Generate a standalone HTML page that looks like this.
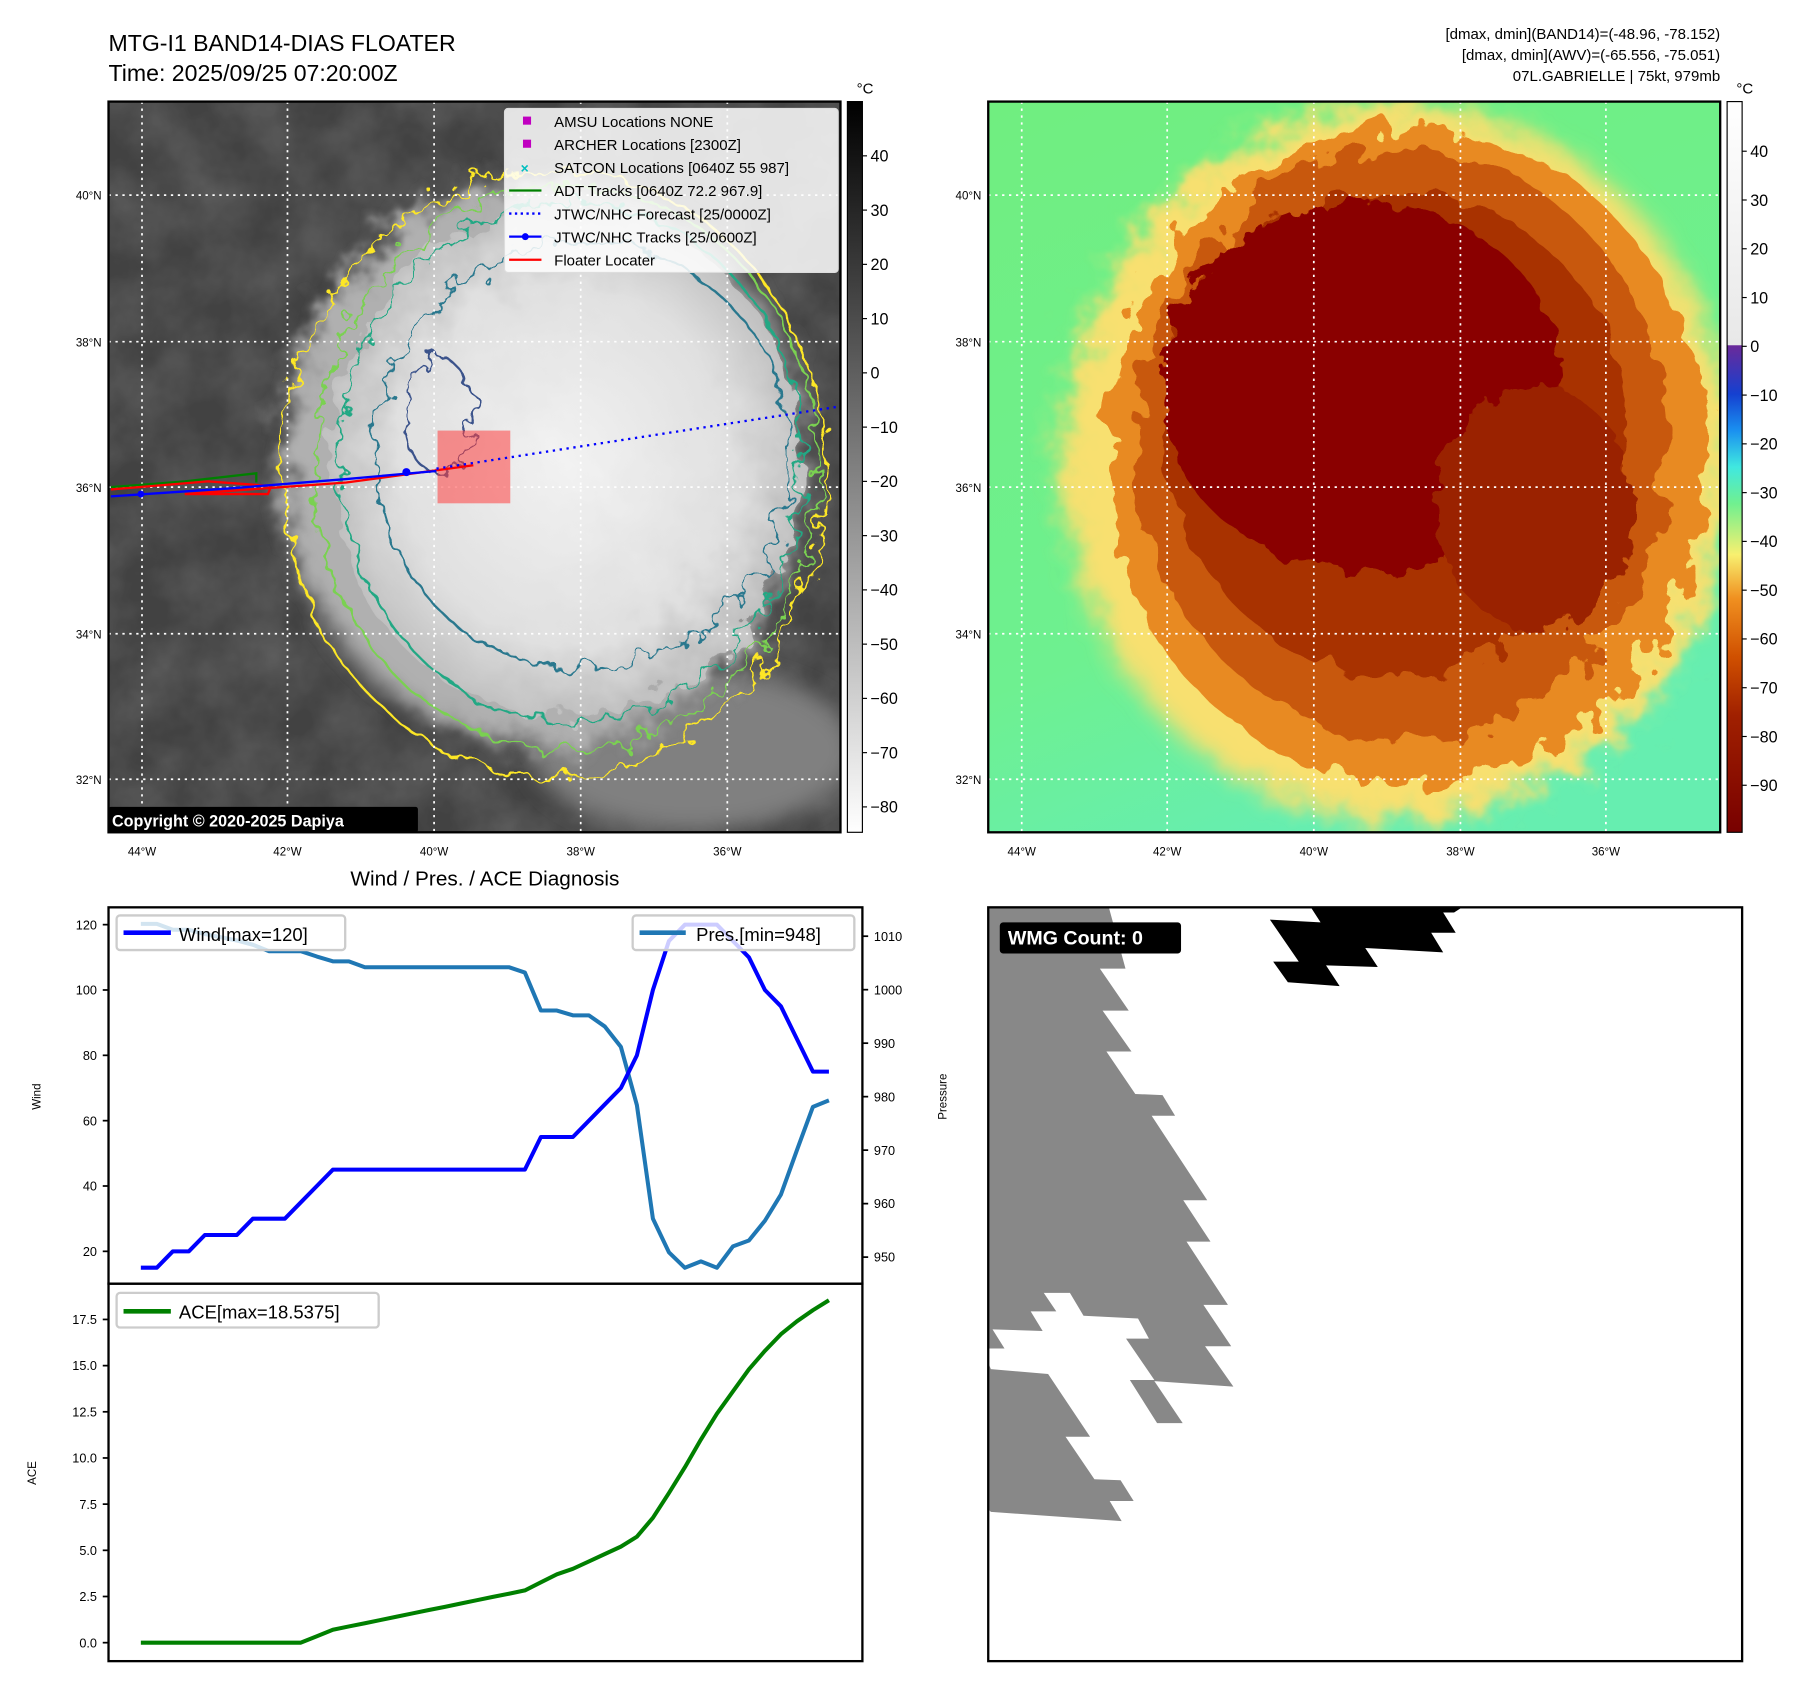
<!DOCTYPE html>
<html><head><meta charset="utf-8"><style>
html,body{margin:0;padding:0;background:#fff}
svg{display:block;font-family:"Liberation Sans","DejaVu Sans",sans-serif}
</style></head><body>
<svg id="fig" width="1801" height="1690" viewBox="0 0 1560 1464" preserveAspectRatio="none" xmlns="http://www.w3.org/2000/svg">
<defs>
<filter id="rough" x="-20%" y="-20%" width="140%" height="140%"><feTurbulence type="fractalNoise" baseFrequency="0.035" numOctaves="3" seed="3"/><feDisplacementMap in="SourceGraphic" scale="40"/></filter>
<filter id="rough2" x="-20%" y="-20%" width="140%" height="140%"><feTurbulence type="fractalNoise" baseFrequency="0.05" numOctaves="3" seed="7"/><feDisplacementMap in="SourceGraphic" scale="28"/></filter>
<filter id="blur8"><feGaussianBlur stdDeviation="10"/></filter>
<filter id="cloudtex" x="0" y="0" width="100%" height="100%"><feTurbulence type="fractalNoise" baseFrequency="0.02" numOctaves="4" seed="2"/><feColorMatrix type="matrix" values="0 0 0 0 1  0 0 0 0 1  0 0 0 0 1  0.6 0 0 0 -0.15"/></filter>
<linearGradient id="grayBar" x1="0" y1="1" x2="0" y2="0"><stop offset="0" stop-color="#fff"/><stop offset="1" stop-color="#000"/></linearGradient>
<linearGradient id="colBar" x1="0" y1="0" x2="0" y2="1">
<stop offset="0" stop-color="#ffffff"/><stop offset="0.333" stop-color="#e8e8e8"/>
<stop offset="0.334" stop-color="#6a2a9a"/><stop offset="0.40" stop-color="#1540d0"/><stop offset="0.45" stop-color="#1a90f0"/><stop offset="0.50" stop-color="#40e8e0"/><stop offset="0.55" stop-color="#70f090"/><stop offset="0.62" stop-color="#f8f070"/><stop offset="0.68" stop-color="#f09020"/><stop offset="0.76" stop-color="#d05000"/><stop offset="0.84" stop-color="#a02000"/><stop offset="1" stop-color="#780000"/></linearGradient>
<radialGradient id="cloudG" cx="0.5" cy="0.5" r="0.5"><stop offset="0" stop-color="#f2f2f2"/><stop offset="0.7" stop-color="#e0e0e0"/><stop offset="1" stop-color="#c0c0c0"/></radialGradient>
<linearGradient id="greenBg" x1="0" y1="0" x2="0.4" y2="1"><stop offset="0" stop-color="#70ee80"/><stop offset="0.7" stop-color="#6ef090"/><stop offset="1" stop-color="#66eeb0"/></linearGradient>
<clipPath id="clipL"><rect x="94" y="88" width="634" height="633"/></clipPath>
<clipPath id="clipR"><rect x="856" y="88" width="634" height="633"/></clipPath>
<clipPath id="clipW"><rect x="856" y="786" width="653" height="653"/></clipPath>
</defs>

<text x="94" y="44" font-size="20">MTG-I1 BAND14-DIAS FLOATER</text>
<text x="94" y="70" font-size="20">Time: 2025/09/25 07:20:00Z</text>
<g font-size="13" text-anchor="end">
<text x="1490" y="34">[dmax, dmin](BAND14)=(-48.96, -78.152)</text>
<text x="1490" y="52">[dmax, dmin](AWV)=(-65.556, -75.051)</text>
<text x="1490" y="70">07L.GABRIELLE | 75kt, 979mb</text>
</g>

<g clip-path="url(#clipL)">
<rect x="94" y="88" width="634" height="633" fill="#424242"/>
<rect x="94" y="88" width="634" height="633" filter="url(#cloudtex)" opacity="0.35"/>
<ellipse cx="600" cy="650" rx="140" ry="70" fill="#808080" filter="url(#blur8)"/>
<g filter="url(#rough)">
<ellipse cx="470" cy="400" rx="225" ry="245" fill="#b0b0b0" filter="url(#blur8)"/>
<ellipse cx="490" cy="400" rx="205" ry="220" fill="url(#cloudG)"/>
</g>
<g fill="none" stroke-width="2" filter="url(#rough2)">
<ellipse cx="480" cy="410" rx="235" ry="262" stroke="#fde725"/>
<ellipse cx="490" cy="405" rx="218" ry="245" stroke="#7ad151"/>
<ellipse cx="495" cy="400" rx="200" ry="225" stroke="#22a884"/>
<ellipse cx="505" cy="395" rx="180" ry="185" stroke="#2a788e"/>
<ellipse cx="380" cy="360" rx="30" ry="50" stroke="#3b528b"/>
</g>
<g stroke="#fff" stroke-width="1.5" stroke-dasharray="2,4">
<line x1="123" y1="88" x2="123" y2="721"/><line x1="249" y1="88" x2="249" y2="721"/><line x1="376" y1="88" x2="376" y2="721"/><line x1="503" y1="88" x2="503" y2="721"/><line x1="630" y1="88" x2="630" y2="721"/>
<line x1="94" y1="169" x2="728" y2="169"/><line x1="94" y1="296" x2="728" y2="296"/><line x1="94" y1="422" x2="728" y2="422"/><line x1="94" y1="549" x2="728" y2="549"/><line x1="94" y1="675" x2="728" y2="675"/>
</g>
<rect x="379" y="373" width="63" height="63" fill="#ff4040" opacity="0.55"/>
<polyline points="96,422 160,417 222,410 222,418" fill="none" stroke="#008000" stroke-width="2"/>
<polyline points="96,424 180,417 235,421 232,428 160,428 300,418 410,403" fill="none" stroke="#ff0000" stroke-width="2"/>
<polyline points="96,430 200,423 300,415 378,408" fill="none" stroke="#0000ff" stroke-width="2"/>
<circle cx="352" cy="409" r="3.5" fill="#0000ff"/><circle cx="122" cy="428" r="3" fill="#0000ff"/>
<line x1="378" y1="406" x2="728" y2="352" stroke="#0000ff" stroke-width="2" stroke-dasharray="2,4"/>
<g font-size="13">
<rect x="437" y="94" width="289" height="142" rx="3" fill="#fff" fill-opacity="0.85" stroke="#ddd"/>
<rect x="453" y="101" width="7" height="7" fill="#c000c0"/><text x="480" y="110">AMSU Locations NONE</text>
<rect x="453" y="121" width="7" height="7" fill="#c000c0"/><text x="480" y="130">ARCHER Locations [2300Z]</text>
<text x="451" y="150" fill="#00bfbf" font-size="12" font-weight="bold">×</text><text x="480" y="150">SATCON Locations [0640Z 55 987]</text>
<line x1="441" y1="165" x2="469" y2="165" stroke="#008000" stroke-width="2"/><text x="480" y="170">ADT Tracks [0640Z 72.2 967.9]</text>
<line x1="441" y1="185" x2="469" y2="185" stroke="#0000ff" stroke-width="2" stroke-dasharray="2,3"/><text x="480" y="190">JTWC/NHC Forecast [25/0000Z]</text>
<line x1="441" y1="205" x2="469" y2="205" stroke="#0000ff" stroke-width="2"/><circle cx="455" cy="205" r="3" fill="#0000ff"/><text x="480" y="210">JTWC/NHC Tracks [25/0600Z]</text>
<line x1="441" y1="225" x2="469" y2="225" stroke="#ff0000" stroke-width="2"/><text x="480" y="230">Floater Locater</text>
</g>
<rect x="94" y="699" width="268" height="22" rx="2" fill="#000"/>
<text x="97" y="716" fill="#fff" font-size="14" font-weight="bold">Copyright © 2020-2025 Dapiya</text>
</g>
<rect x="94" y="88" width="634" height="633" fill="none" stroke="#000" stroke-width="2"/>
<g font-size="10" text-anchor="end">
<text x="88" y="173">40°N</text><text x="88" y="300">38°N</text><text x="88" y="426">36°N</text><text x="88" y="553">34°N</text><text x="88" y="679">32°N</text></g>
<g font-size="10" text-anchor="middle">
<text x="123" y="741">44°W</text><text x="249" y="741">42°W</text><text x="376" y="741">40°W</text><text x="503" y="741">38°W</text><text x="630" y="741">36°W</text></g>
<rect x="734" y="88" width="13" height="633" fill="url(#grayBar)" stroke="#000"/>
<text x="742" y="81" font-size="13">°C</text>
<g id="cbL" font-size="14"></g>

<g clip-path="url(#clipR)">
<rect x="856" y="88" width="634" height="633" fill="url(#greenBg)"/>
<g filter="url(#rough)">
<ellipse cx="1210" cy="400" rx="290" ry="310" fill="#f8e070" filter="url(#blur8)"/>
<ellipse cx="1220" cy="395" rx="260" ry="285" fill="#e88a20"/>
<ellipse cx="1215" cy="385" rx="230" ry="255" fill="#c85810"/>
<ellipse cx="1210" cy="375" rx="200" ry="210" fill="#a83000"/>
</g>
<g filter="url(#rough2)">
<ellipse cx="1180" cy="335" rx="175" ry="160" fill="#8a0000"/>
<ellipse cx="1330" cy="440" rx="85" ry="105" fill="#9a2000"/>
</g>
<g stroke="#fff" stroke-width="1.5" stroke-dasharray="2,4">
<line x1="885" y1="88" x2="885" y2="721"/><line x1="1011" y1="88" x2="1011" y2="721"/><line x1="1138" y1="88" x2="1138" y2="721"/><line x1="1265" y1="88" x2="1265" y2="721"/><line x1="1391" y1="88" x2="1391" y2="721"/>
<line x1="856" y1="169" x2="1490" y2="169"/><line x1="856" y1="296" x2="1490" y2="296"/><line x1="856" y1="422" x2="1490" y2="422"/><line x1="856" y1="549" x2="1490" y2="549"/><line x1="856" y1="675" x2="1490" y2="675"/>
</g>
</g>
<rect x="856" y="88" width="634" height="633" fill="none" stroke="#000" stroke-width="2"/>
<g font-size="10" text-anchor="end">
<text x="850" y="173">40°N</text><text x="850" y="300">38°N</text><text x="850" y="426">36°N</text><text x="850" y="553">34°N</text><text x="850" y="679">32°N</text></g>
<g font-size="10" text-anchor="middle">
<text x="885" y="741">44°W</text><text x="1011" y="741">42°W</text><text x="1138" y="741">40°W</text><text x="1265" y="741">38°W</text><text x="1391" y="741">36°W</text></g>
<rect x="1496" y="88" width="13" height="633" fill="url(#colBar)" stroke="#000"/>
<text x="1504" y="81" font-size="13">°C</text>
<g id="cbR" font-size="14"></g>

<text x="420" y="767" font-size="18" text-anchor="middle">Wind / Pres. / ACE Diagnosis</text>
<g id="diag"></g>
<rect x="94" y="786" width="653" height="326" fill="none" stroke="#000" stroke-width="2"/>
<rect x="94" y="1112" width="653" height="327" fill="none" stroke="#000" stroke-width="2"/>
<text transform="translate(35,950) rotate(-90)" font-size="10" text-anchor="middle">Wind</text>
<text transform="translate(820,950) rotate(-90)" font-size="10" text-anchor="middle">Pressure</text>
<text transform="translate(31,1276) rotate(-90)" font-size="10" text-anchor="middle">ACE</text>
<g><rect x="101" y="793" width="198" height="30" rx="3" fill="#fff" fill-opacity="0.8" stroke="#ccc" stroke-width="2"/>
<line x1="107" y1="808" x2="148" y2="808" stroke="#0000ff" stroke-width="4"/><text x="155" y="815" font-size="16">Wind[max=120]</text></g>
<g><rect x="548" y="793" width="192" height="30" rx="3" fill="#fff" fill-opacity="0.8" stroke="#ccc" stroke-width="2"/>
<line x1="554" y1="808" x2="594" y2="808" stroke="#1f77b4" stroke-width="4"/><text x="603" y="815" font-size="16">Pres.[min=948]</text></g>
<g><rect x="101" y="1120" width="227" height="30" rx="3" fill="#fff" fill-opacity="0.8" stroke="#ccc" stroke-width="2"/>
<line x1="107" y1="1136" x2="148" y2="1136" stroke="#008000" stroke-width="4"/><text x="155" y="1142" font-size="16">ACE[max=18.5375]</text></g>

<g clip-path="url(#clipW)">
<rect x="856" y="786" width="653" height="653" fill="#fff"/>
<g transform="translate(822.9,762.2) scale(0.472)">
<polygon fill="#888" points="65,45 290,45 322,163 275,163 328,240 280,240 333,315 287,315 340,393 390,395 413,433 370,433 472,588 428,588 478,664 434,664 510,780 465,780 516,856 468,856 520,930 375,920 427,997 380,997 330,918 375,918 323,842 365,842 345,805 245,800 220,758 172,758 195,792 148,792 170,828 78,825 100,860 65,860 65,875 75,898 180,907 257,1022 212,1022 265,1100 313,1102 337,1140 293,1140 315,1177 75,1160 65,1150"/>
<polygon fill="#000" points="587,73 680,78 660,47 945,47 925,60 905,60 928,97 883,97 905,133 762,125 785,160 690,157 715,195 620,188 593,150 640,150"/>
</g>
<rect x="866" y="799" width="157" height="27" rx="3" fill="#000"/>
<text x="873" y="818" fill="#fff" font-size="17" font-weight="bold">WMG Count: 0</text>
</g>
<rect x="856" y="786" width="653" height="653" fill="none" stroke="#000" stroke-width="2"/>
</svg>
<script>
const windVals=[15,15,20,20,25,25,25,30,30,30,35,40,45,45,45,45,45,45,45,45,45,45,45,45,45,55,55,55,60,65,70,80,100,115,120,120,120,115,110,100,95,85,75,75];
const presVals=[1012.3,1012.3,1011.2,1011.2,1010.4,1009.8,1009.2,1008.4,1007.2,1007.2,1007.2,1006.2,1005.3,1005.3,1004.2,1004.2,1004.2,1004.2,1004.2,1004.2,1004.2,1004.2,1004.2,1004.2,1003.2,996.1,996.1,995.2,995.2,993.1,989.3,978.4,957.2,950.9,948,949.2,948,952,953.1,956.8,961.7,970,978.1,979.3];
const aceVals=[0,0,0,0,0,0,0,0,0,0,0,0.35,0.7,0.88,1.05,1.23,1.41,1.59,1.77,1.94,2.12,2.3,2.48,2.65,2.83,3.27,3.7,4.0,4.4,4.8,5.2,5.74,6.76,8.1,9.5,11.0,12.4,13.6,14.8,15.8,16.7,17.4,18.0,18.54];
const windTicks=[20,40,60,80,100,120];
const presTicks=[950,960,970,980,990,1000,1010];
const aceTicks=[0,2.5,5,7.5,10,12.5,15,17.5];
const grayTicks=[40,30,20,10,0,-10,-20,-30,-40,-50,-60,-70,-80];
const colorTicks=[40,30,20,10,0,-10,-20,-30,-40,-50,-60,-70,-80,-90];

const NS="http://www.w3.org/2000/svg";
function mk(t,a,p){const e=document.createElementNS(NS,t);for(const k in a)e.setAttribute(k,a[k]);p.appendChild(e);return e;}
const xS=i=>122+i*(718-122)/(windVals.length-1);
const yW=v=>801+(120-v)*(1084-801)/100;
const yP=v=>811+(1010-v)*(1089-811)/60;
const yA=v=>1423-v*(1423-1143)/17.5;
const yGray=v=>323-v*(323-135)/40;
const yCol=v=>300-v*(300-131)/40;
const d=document.getElementById('diag');
function line(vals,yf,col,name){
  const pl=mk('polyline',{points:vals.map((v,i)=>xS(i)+','+yf(v)).join(' '),fill:'none',stroke:col,'stroke-width':3.5,'stroke-linejoin':'round'},d);
  
  
}
line(presVals,yP,'#1f77b4','pressure-line');
line(windVals,yW,'#0000ff','wind-line');
line(aceVals,yA,'#008000','ace-line');
function ticks(arr,yf,x,side,fmt,g){
  arr.forEach(v=>{const y=yf(v);
    const tk=mk('line',{x1:x,x2:x+(side<0?-5:5),y1:y,y2:y,stroke:'#000','stroke-width':1.5},g);
    
    
    const t=mk('text',{x:x+(side<0?-10:10),y:y+4,'font-size':11,'text-anchor':side<0?'end':'start'},g);
    t.textContent=fmt(v);
    
    
  });
}
ticks(windTicks,yW,94,-1,v=>String(v),d);
ticks(presTicks,yP,747,1,v=>String(v),d);
ticks(aceTicks,yA,94,-1,v=>v.toFixed(1),d);
const gL=document.getElementById('cbL'),gR=document.getElementById('cbR');
grayTicks.forEach(v=>{const y=yGray(v);mk('line',{x1:747,x2:751,y1:y,y2:y,stroke:'#000'},gL);const t=mk('text',{x:754,y:y+5,'font-size':14},gL);t.textContent=v<0?'\u2212'+(-v):String(v);

});
colorTicks.forEach(v=>{const y=yCol(v);mk('line',{x1:1509,x2:1513,y1:y,y2:y,stroke:'#000'},gR);const t=mk('text',{x:1516,y:y+5,'font-size':14},gR);t.textContent=v<0?'\u2212'+(-v):String(v);

});
</script>
</body></html>
